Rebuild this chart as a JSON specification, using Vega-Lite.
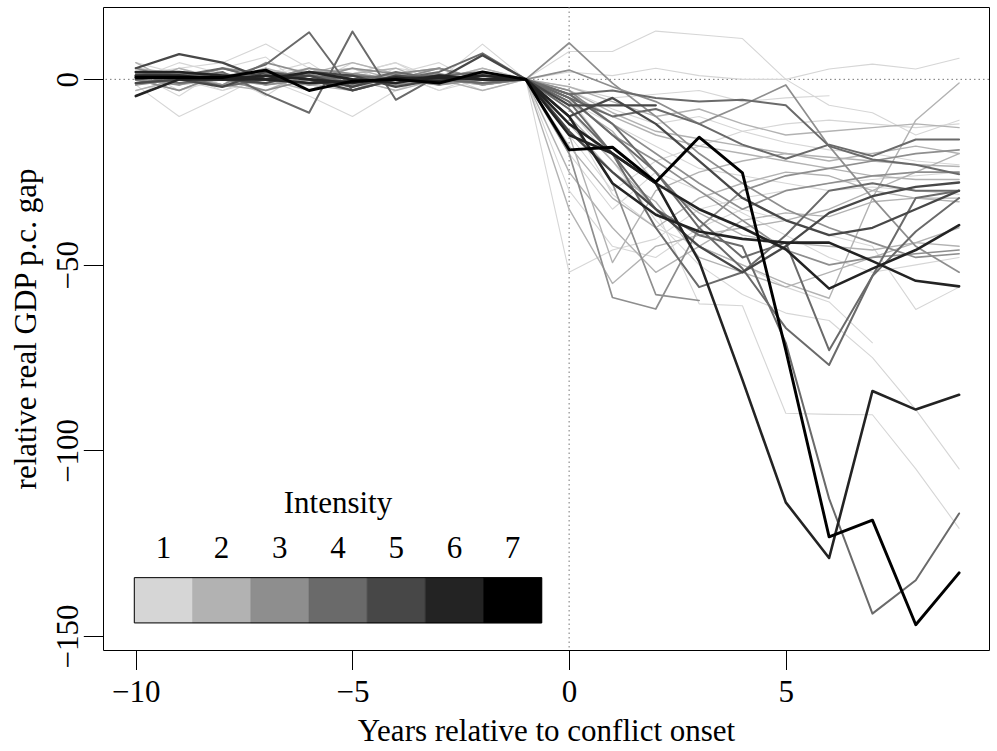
{
"$schema": "https://vega.github.io/schema/vega-lite/v6.json",
"width": 886, "height": 643,
"autosize": {"type": "none"},
"padding": {"left": 103, "top": 7, "right": 8, "bottom": 101},
"background": "white",
"config": {
  "font": "Liberation Serif",
  "view": {"stroke": "#000", "strokeWidth": 1},
  "axis": {"domain": false, "grid": false, "tickColor": "#000", "tickWidth": 1, "labelColor": "#000", "labelFont": "Liberation Serif", "labelFontSize": 31, "titleFont": "Liberation Serif", "titleFontSize": 31, "titleFontWeight": "normal", "titleColor": "#000", "labelFlush": false, "labelOverlap": false, "labelBound": false},
  "axisX": {"tickSize": 19.5, "labelBaseline": "alphabetic", "labelAlign": "center", "labelPadding": 31.5, "titleBaseline": "alphabetic", "titleY": 90},
  "axisY": {"tickSize": 19.7, "labelAngle": -90, "labelAlign": "center", "labelBaseline": "alphabetic", "labelPadding": 5.5, "titleAngle": -90, "titleAlign": "center", "titleBaseline": "alphabetic", "titleX": -68, "titleY": 321.5}
},
"layer": [
 {
  "layer": [
   {
    "data": {"values": [{}]},
    "mark": {"type": "rule", "color": "#777", "strokeDash": [1.5, 3], "strokeWidth": 1},
    "encoding": {"x": {"datum": 0, "type": "quantitative", "scale": {"domain": [-10.757, 9.69], "nice": false, "zero": false}, "title": "Years relative to conflict onset", "axis": {"values": [-10, -5, 0, 5]}}}
   },
   {
    "data": {"values": [{}]},
    "mark": {"type": "rule", "color": "#777", "strokeDash": [1.5, 3], "strokeWidth": 1},
    "encoding": {"y": {"datum": 0, "type": "quantitative", "scale": {"domain": [-153.8, 19.5], "nice": false, "zero": false}, "title": "relative real GDP p.c. gap", "axis": {"values": [0, -50, -100, -150]}}}
   },
   {
    "data": {"values": [
{"line":"L1","intensity":1,"year":-10,"gap":1.5},{"line":"L1","intensity":1,"year":-9,"gap":-4.5},{"line":"L1","intensity":1,"year":-8,"gap":3},{"line":"L1","intensity":1,"year":-7,"gap":6},{"line":"L1","intensity":1,"year":-6,"gap":-3},{"line":"L1","intensity":1,"year":-5,"gap":1.5},{"line":"L1","intensity":1,"year":-4,"gap":4.5},{"line":"L1","intensity":1,"year":-3,"gap":-1.5},{"line":"L1","intensity":1,"year":-2,"gap":3},{"line":"L1","intensity":1,"year":-1,"gap":0},
{"line":"L1","intensity":1,"year":0,"gap":7.5},{"line":"L1","intensity":1,"year":1,"gap":7.5},{"line":"L1","intensity":1,"year":2,"gap":13},{"line":"L1","intensity":1,"year":3,"gap":12},{"line":"L1","intensity":1,"year":4,"gap":11},{"line":"L1","intensity":1,"year":5,"gap":0},{"line":"L1","intensity":1,"year":6,"gap":-7},{"line":"L1","intensity":1,"year":7,"gap":-9},{"line":"L1","intensity":1,"year":8,"gap":-15},{"line":"L1","intensity":1,"year":9,"gap":-11},
{"line":"L2","intensity":1,"year":-10,"gap":0},{"line":"L2","intensity":1,"year":-9,"gap":3},{"line":"L2","intensity":1,"year":-8,"gap":-1.5},{"line":"L2","intensity":1,"year":-7,"gap":1.5},{"line":"L2","intensity":1,"year":-6,"gap":4.5},{"line":"L2","intensity":1,"year":-5,"gap":-3},{"line":"L2","intensity":1,"year":-4,"gap":0},{"line":"L2","intensity":1,"year":-3,"gap":1.5},{"line":"L2","intensity":1,"year":-2,"gap":-1.5},{"line":"L2","intensity":1,"year":-1,"gap":0},
{"line":"L2","intensity":1,"year":0,"gap":2},{"line":"L2","intensity":1,"year":1,"gap":1},{"line":"L2","intensity":1,"year":2,"gap":3},{"line":"L2","intensity":1,"year":3,"gap":1},{"line":"L2","intensity":1,"year":4,"gap":0},{"line":"L2","intensity":1,"year":5,"gap":0},{"line":"L2","intensity":1,"year":6,"gap":2.8},{"line":"L2","intensity":1,"year":7,"gap":4.1},{"line":"L2","intensity":1,"year":8,"gap":2.8},{"line":"L2","intensity":1,"year":9,"gap":5.7},
{"line":"L3","intensity":1,"year":-10,"gap":-3},{"line":"L3","intensity":1,"year":-9,"gap":0},{"line":"L3","intensity":1,"year":-8,"gap":1.5},{"line":"L3","intensity":1,"year":-7,"gap":-4.5},{"line":"L3","intensity":1,"year":-6,"gap":3},{"line":"L3","intensity":1,"year":-5,"gap":0},{"line":"L3","intensity":1,"year":-4,"gap":-3},{"line":"L3","intensity":1,"year":-3,"gap":1.5},{"line":"L3","intensity":1,"year":-2,"gap":0},{"line":"L3","intensity":1,"year":-1,"gap":0.5},
{"line":"L3","intensity":1,"year":0,"gap":-5},{"line":"L3","intensity":1,"year":1,"gap":-20},{"line":"L3","intensity":1,"year":2,"gap":-35},{"line":"L3","intensity":1,"year":3,"gap":-60.5},{"line":"L3","intensity":1,"year":4,"gap":-61},{"line":"L3","intensity":1,"year":5,"gap":-90},{"line":"L3","intensity":1,"year":6,"gap":-90.3},{"line":"L3","intensity":1,"year":7,"gap":-90.4},{"line":"L3","intensity":1,"year":8,"gap":-105},{"line":"L3","intensity":1,"year":9,"gap":-121},
{"line":"L4","intensity":1,"year":-10,"gap":4.5},{"line":"L4","intensity":1,"year":-9,"gap":1.5},{"line":"L4","intensity":1,"year":-8,"gap":-3},{"line":"L4","intensity":1,"year":-7,"gap":0},{"line":"L4","intensity":1,"year":-6,"gap":1.5},{"line":"L4","intensity":1,"year":-5,"gap":3},{"line":"L4","intensity":1,"year":-4,"gap":-1.5},{"line":"L4","intensity":1,"year":-3,"gap":0},{"line":"L4","intensity":1,"year":-2,"gap":3},{"line":"L4","intensity":1,"year":-1,"gap":0},
{"line":"L4","intensity":1,"year":0,"gap":-8},{"line":"L4","intensity":1,"year":1,"gap":-22},{"line":"L4","intensity":1,"year":2,"gap":-38},{"line":"L4","intensity":1,"year":3,"gap":-50},{"line":"L4","intensity":1,"year":4,"gap":-58},{"line":"L4","intensity":1,"year":5,"gap":-63},{"line":"L4","intensity":1,"year":6,"gap":-65},{"line":"L4","intensity":1,"year":7,"gap":-75},{"line":"L4","intensity":1,"year":8,"gap":-89},{"line":"L4","intensity":1,"year":9,"gap":-105},
{"line":"L5","intensity":1,"year":-10,"gap":-1.5},{"line":"L5","intensity":1,"year":-9,"gap":-10},{"line":"L5","intensity":1,"year":-8,"gap":-4.5},{"line":"L5","intensity":1,"year":-7,"gap":1.5},{"line":"L5","intensity":1,"year":-6,"gap":0},{"line":"L5","intensity":1,"year":-5,"gap":-3},{"line":"L5","intensity":1,"year":-4,"gap":1.5},{"line":"L5","intensity":1,"year":-3,"gap":4.5},{"line":"L5","intensity":1,"year":-2,"gap":-1.5},{"line":"L5","intensity":1,"year":-1,"gap":0},
{"line":"L5","intensity":1,"year":0,"gap":-52},{"line":"L5","intensity":1,"year":1,"gap":-46},{"line":"L5","intensity":1,"year":2,"gap":-43},{"line":"L5","intensity":1,"year":3,"gap":-35},{"line":"L5","intensity":1,"year":4,"gap":-32},{"line":"L5","intensity":1,"year":5,"gap":-30},{"line":"L5","intensity":1,"year":6,"gap":-28},{"line":"L5","intensity":1,"year":7,"gap":-27},{"line":"L5","intensity":1,"year":8,"gap":-26},{"line":"L5","intensity":1,"year":9,"gap":-25},
{"line":"L6","intensity":1,"year":-10,"gap":1.5},{"line":"L6","intensity":1,"year":-9,"gap":3},{"line":"L6","intensity":1,"year":-8,"gap":4.5},{"line":"L6","intensity":1,"year":-7,"gap":9.5},{"line":"L6","intensity":1,"year":-6,"gap":3},{"line":"L6","intensity":1,"year":-5,"gap":0},{"line":"L6","intensity":1,"year":-4,"gap":-1.5},{"line":"L6","intensity":1,"year":-3,"gap":1.5},{"line":"L6","intensity":1,"year":-2,"gap":-3},{"line":"L6","intensity":1,"year":-1,"gap":0},
{"line":"L6","intensity":1,"year":0,"gap":-3},{"line":"L6","intensity":1,"year":1,"gap":-8},{"line":"L6","intensity":1,"year":2,"gap":-12},{"line":"L6","intensity":1,"year":3,"gap":-10},{"line":"L6","intensity":1,"year":4,"gap":-14},{"line":"L6","intensity":1,"year":5,"gap":-17},{"line":"L6","intensity":1,"year":6,"gap":-19},{"line":"L6","intensity":1,"year":7,"gap":-20},{"line":"L6","intensity":1,"year":8,"gap":-22},{"line":"L6","intensity":1,"year":9,"gap":-23},
{"line":"L7","intensity":1,"year":-10,"gap":0},{"line":"L7","intensity":1,"year":-9,"gap":-1.5},{"line":"L7","intensity":1,"year":-8,"gap":3},{"line":"L7","intensity":1,"year":-7,"gap":0},{"line":"L7","intensity":1,"year":-6,"gap":-4.5},{"line":"L7","intensity":1,"year":-5,"gap":-10},{"line":"L7","intensity":1,"year":-4,"gap":-3},{"line":"L7","intensity":1,"year":-3,"gap":1.5},{"line":"L7","intensity":1,"year":-2,"gap":0},{"line":"L7","intensity":1,"year":-1,"gap":0},
{"line":"L7","intensity":1,"year":0,"gap":-2},{"line":"L7","intensity":1,"year":1,"gap":-5},{"line":"L7","intensity":1,"year":2,"gap":-4},{"line":"L7","intensity":1,"year":3,"gap":-3},{"line":"L7","intensity":1,"year":4,"gap":-6},{"line":"L7","intensity":1,"year":5,"gap":-5},{"line":"L7","intensity":1,"year":6,"gap":-4.4},
{"line":"L8","intensity":1,"year":-10,"gap":3},{"line":"L8","intensity":1,"year":-9,"gap":0},{"line":"L8","intensity":1,"year":-8,"gap":-1.5},{"line":"L8","intensity":1,"year":-7,"gap":1.5},{"line":"L8","intensity":1,"year":-6,"gap":3},{"line":"L8","intensity":1,"year":-5,"gap":1.5},{"line":"L8","intensity":1,"year":-4,"gap":4.5},{"line":"L8","intensity":1,"year":-3,"gap":0},{"line":"L8","intensity":1,"year":-2,"gap":9.5},{"line":"L8","intensity":1,"year":-1,"gap":0},
{"line":"L8","intensity":1,"year":0,"gap":-6},{"line":"L8","intensity":1,"year":1,"gap":-12},{"line":"L8","intensity":1,"year":2,"gap":-18},{"line":"L8","intensity":1,"year":3,"gap":-24},{"line":"L8","intensity":1,"year":4,"gap":-26},{"line":"L8","intensity":1,"year":5,"gap":-28},{"line":"L8","intensity":1,"year":6,"gap":-30},{"line":"L8","intensity":1,"year":7,"gap":-29},{"line":"L8","intensity":1,"year":8,"gap":-30},{"line":"L8","intensity":1,"year":9,"gap":-31},
{"line":"L9","intensity":1,"year":-10,"gap":-4.5},{"line":"L9","intensity":1,"year":-9,"gap":1.5},{"line":"L9","intensity":1,"year":-8,"gap":0},{"line":"L9","intensity":1,"year":-7,"gap":3},{"line":"L9","intensity":1,"year":-6,"gap":-1.5},{"line":"L9","intensity":1,"year":-5,"gap":4.5},{"line":"L9","intensity":1,"year":-4,"gap":1.5},{"line":"L9","intensity":1,"year":-3,"gap":-3},{"line":"L9","intensity":1,"year":-2,"gap":0},{"line":"L9","intensity":1,"year":-1,"gap":0},
{"line":"L9","intensity":1,"year":0,"gap":-15},{"line":"L9","intensity":1,"year":1,"gap":-30},{"line":"L9","intensity":1,"year":2,"gap":-22},{"line":"L9","intensity":1,"year":3,"gap":-18},{"line":"L9","intensity":1,"year":4,"gap":-14},{"line":"L9","intensity":1,"year":5,"gap":-12},{"line":"L9","intensity":1,"year":6,"gap":-11},{"line":"L9","intensity":1,"year":7,"gap":-12},{"line":"L9","intensity":1,"year":8,"gap":-13},{"line":"L9","intensity":1,"year":9,"gap":-12},
{"line":"L10","intensity":1,"year":-10,"gap":1.5},{"line":"L10","intensity":1,"year":-9,"gap":0},{"line":"L10","intensity":1,"year":-8,"gap":-3},{"line":"L10","intensity":1,"year":-7,"gap":1.5},{"line":"L10","intensity":1,"year":-6,"gap":0},{"line":"L10","intensity":1,"year":-5,"gap":-1.5},{"line":"L10","intensity":1,"year":-4,"gap":3},{"line":"L10","intensity":1,"year":-3,"gap":1.5},{"line":"L10","intensity":1,"year":-2,"gap":-1.5},{"line":"L10","intensity":1,"year":-1,"gap":0},
{"line":"L10","intensity":1,"year":0,"gap":-10},{"line":"L10","intensity":1,"year":1,"gap":-31},{"line":"L10","intensity":1,"year":2,"gap":-40},{"line":"L10","intensity":1,"year":3,"gap":-45},{"line":"L10","intensity":1,"year":4,"gap":-50},{"line":"L10","intensity":1,"year":5,"gap":-56},{"line":"L10","intensity":1,"year":6,"gap":-60},{"line":"L10","intensity":1,"year":7,"gap":-71},
{"line":"L11","intensity":1,"year":-10,"gap":0},{"line":"L11","intensity":1,"year":-9,"gap":4.5},{"line":"L11","intensity":1,"year":-8,"gap":1.5},{"line":"L11","intensity":1,"year":-7,"gap":-1.5},{"line":"L11","intensity":1,"year":-6,"gap":0},{"line":"L11","intensity":1,"year":-5,"gap":3},{"line":"L11","intensity":1,"year":-4,"gap":-1.5},{"line":"L11","intensity":1,"year":-3,"gap":0},{"line":"L11","intensity":1,"year":-2,"gap":1.5},{"line":"L11","intensity":1,"year":-1,"gap":0},
{"line":"L11","intensity":1,"year":0,"gap":-30},{"line":"L11","intensity":1,"year":1,"gap":-45},{"line":"L11","intensity":1,"year":2,"gap":-48},{"line":"L11","intensity":1,"year":3,"gap":-40},{"line":"L11","intensity":1,"year":4,"gap":-35},{"line":"L11","intensity":1,"year":5,"gap":-38},{"line":"L11","intensity":1,"year":6,"gap":-42},{"line":"L11","intensity":1,"year":7,"gap":-45},{"line":"L11","intensity":1,"year":8,"gap":-62},{"line":"L11","intensity":1,"year":9,"gap":-56},
{"line":"L12","intensity":1,"year":-10,"gap":3},{"line":"L12","intensity":1,"year":-9,"gap":-3},{"line":"L12","intensity":1,"year":-8,"gap":0},{"line":"L12","intensity":1,"year":-7,"gap":1.5},{"line":"L12","intensity":1,"year":-6,"gap":-1.5},{"line":"L12","intensity":1,"year":-5,"gap":0},{"line":"L12","intensity":1,"year":-4,"gap":1.5},{"line":"L12","intensity":1,"year":-3,"gap":-3},{"line":"L12","intensity":1,"year":-2,"gap":1.5},{"line":"L12","intensity":1,"year":-1,"gap":0},
{"line":"L12","intensity":1,"year":0,"gap":-20},{"line":"L12","intensity":1,"year":1,"gap":-35},{"line":"L12","intensity":1,"year":2,"gap":-25},{"line":"L12","intensity":1,"year":3,"gap":-30},{"line":"L12","intensity":1,"year":4,"gap":-36},{"line":"L12","intensity":1,"year":5,"gap":-42},{"line":"L12","intensity":1,"year":6,"gap":-48},{"line":"L12","intensity":1,"year":7,"gap":-52},{"line":"L12","intensity":1,"year":8,"gap":-50},{"line":"L12","intensity":1,"year":9,"gap":-48},
{"line":"M1","intensity":2,"year":-10,"gap":-1.5},{"line":"M1","intensity":2,"year":-9,"gap":1.5},{"line":"M1","intensity":2,"year":-8,"gap":0},{"line":"M1","intensity":2,"year":-7,"gap":3},{"line":"M1","intensity":2,"year":-6,"gap":-3},{"line":"M1","intensity":2,"year":-5,"gap":1.5},{"line":"M1","intensity":2,"year":-4,"gap":0},{"line":"M1","intensity":2,"year":-3,"gap":-1.5},{"line":"M1","intensity":2,"year":-2,"gap":1.5},{"line":"M1","intensity":2,"year":-1,"gap":0},
{"line":"M1","intensity":2,"year":0,"gap":-15},{"line":"M1","intensity":2,"year":1,"gap":-49.4},{"line":"M1","intensity":2,"year":2,"gap":-30},{"line":"M1","intensity":2,"year":3,"gap":-25},{"line":"M1","intensity":2,"year":4,"gap":-22},{"line":"M1","intensity":2,"year":5,"gap":-20},{"line":"M1","intensity":2,"year":6,"gap":-21},{"line":"M1","intensity":2,"year":7,"gap":-22},{"line":"M1","intensity":2,"year":8,"gap":-23},{"line":"M1","intensity":2,"year":9,"gap":-23.5},
{"line":"M2","intensity":2,"year":-10,"gap":0},{"line":"M2","intensity":2,"year":-9,"gap":-3},{"line":"M2","intensity":2,"year":-8,"gap":1.5},{"line":"M2","intensity":2,"year":-7,"gap":0},{"line":"M2","intensity":2,"year":-6,"gap":3},{"line":"M2","intensity":2,"year":-5,"gap":-1.5},{"line":"M2","intensity":2,"year":-4,"gap":0},{"line":"M2","intensity":2,"year":-3,"gap":3},{"line":"M2","intensity":2,"year":-2,"gap":-1.5},{"line":"M2","intensity":2,"year":-1,"gap":0},
{"line":"M2","intensity":2,"year":0,"gap":-4},{"line":"M2","intensity":2,"year":1,"gap":-10},{"line":"M2","intensity":2,"year":2,"gap":-15},{"line":"M2","intensity":2,"year":3,"gap":-18},{"line":"M2","intensity":2,"year":4,"gap":-20},{"line":"M2","intensity":2,"year":5,"gap":-22},{"line":"M2","intensity":2,"year":6,"gap":-24},{"line":"M2","intensity":2,"year":7,"gap":-26},{"line":"M2","intensity":2,"year":8,"gap":-27},{"line":"M2","intensity":2,"year":9,"gap":-27},
{"line":"M3","intensity":2,"year":-10,"gap":3},{"line":"M3","intensity":2,"year":-9,"gap":1.5},{"line":"M3","intensity":2,"year":-8,"gap":-1.5},{"line":"M3","intensity":2,"year":-7,"gap":0},{"line":"M3","intensity":2,"year":-6,"gap":1.5},{"line":"M3","intensity":2,"year":-5,"gap":3},{"line":"M3","intensity":2,"year":-4,"gap":0},{"line":"M3","intensity":2,"year":-3,"gap":1.5},{"line":"M3","intensity":2,"year":-2,"gap":0},{"line":"M3","intensity":2,"year":-1,"gap":0},
{"line":"M3","intensity":2,"year":0,"gap":-12},{"line":"M3","intensity":2,"year":1,"gap":-25},{"line":"M3","intensity":2,"year":2,"gap":-33},{"line":"M3","intensity":2,"year":3,"gap":-48},{"line":"M3","intensity":2,"year":4,"gap":-52},{"line":"M3","intensity":2,"year":5,"gap":-56},{"line":"M3","intensity":2,"year":6,"gap":-52},{"line":"M3","intensity":2,"year":7,"gap":-48},{"line":"M3","intensity":2,"year":8,"gap":-44},{"line":"M3","intensity":2,"year":9,"gap":-40},
{"line":"M4","intensity":2,"year":-10,"gap":-3},{"line":"M4","intensity":2,"year":-9,"gap":0},{"line":"M4","intensity":2,"year":-8,"gap":3},{"line":"M4","intensity":2,"year":-7,"gap":1.5},{"line":"M4","intensity":2,"year":-6,"gap":-1.5},{"line":"M4","intensity":2,"year":-5,"gap":0},{"line":"M4","intensity":2,"year":-4,"gap":-3},{"line":"M4","intensity":2,"year":-3,"gap":0},{"line":"M4","intensity":2,"year":-2,"gap":1.5},{"line":"M4","intensity":2,"year":-1,"gap":0},
{"line":"M4","intensity":2,"year":0,"gap":-6},{"line":"M4","intensity":2,"year":1,"gap":-14},{"line":"M4","intensity":2,"year":2,"gap":-28},{"line":"M4","intensity":2,"year":3,"gap":-36},{"line":"M4","intensity":2,"year":4,"gap":-42},{"line":"M4","intensity":2,"year":5,"gap":-44},{"line":"M4","intensity":2,"year":6,"gap":-45},{"line":"M4","intensity":2,"year":7,"gap":-46},{"line":"M4","intensity":2,"year":8,"gap":-44},{"line":"M4","intensity":2,"year":9,"gap":-45},
{"line":"M5","intensity":2,"year":-10,"gap":1.5},{"line":"M5","intensity":2,"year":-9,"gap":0},{"line":"M5","intensity":2,"year":-8,"gap":-1.5},{"line":"M5","intensity":2,"year":-7,"gap":-3},{"line":"M5","intensity":2,"year":-6,"gap":1.5},{"line":"M5","intensity":2,"year":-5,"gap":4.5},{"line":"M5","intensity":2,"year":-4,"gap":1.5},{"line":"M5","intensity":2,"year":-3,"gap":0},{"line":"M5","intensity":2,"year":-2,"gap":-1.5},{"line":"M5","intensity":2,"year":-1,"gap":0},
{"line":"M5","intensity":2,"year":0,"gap":-2},{"line":"M5","intensity":2,"year":1,"gap":-6},{"line":"M5","intensity":2,"year":2,"gap":-10},{"line":"M5","intensity":2,"year":3,"gap":-8},{"line":"M5","intensity":2,"year":4,"gap":-12},{"line":"M5","intensity":2,"year":5,"gap":-15},{"line":"M5","intensity":2,"year":6,"gap":-14},{"line":"M5","intensity":2,"year":7,"gap":-13},{"line":"M5","intensity":2,"year":8,"gap":-12},{"line":"M5","intensity":2,"year":9,"gap":-13},
{"line":"M6","intensity":2,"year":-10,"gap":0},{"line":"M6","intensity":2,"year":-9,"gap":1.5},{"line":"M6","intensity":2,"year":-8,"gap":1.5},{"line":"M6","intensity":2,"year":-7,"gap":0},{"line":"M6","intensity":2,"year":-6,"gap":-1.5},{"line":"M6","intensity":2,"year":-5,"gap":-3},{"line":"M6","intensity":2,"year":-4,"gap":1.5},{"line":"M6","intensity":2,"year":-3,"gap":3},{"line":"M6","intensity":2,"year":-2,"gap":0},{"line":"M6","intensity":2,"year":-1,"gap":0},
{"line":"M6","intensity":2,"year":0,"gap":-25},{"line":"M6","intensity":2,"year":1,"gap":-40},{"line":"M6","intensity":2,"year":2,"gap":-52},{"line":"M6","intensity":2,"year":3,"gap":-45},{"line":"M6","intensity":2,"year":4,"gap":-38},{"line":"M6","intensity":2,"year":5,"gap":-36},{"line":"M6","intensity":2,"year":6,"gap":-37},{"line":"M6","intensity":2,"year":7,"gap":-33},{"line":"M6","intensity":2,"year":8,"gap":-32},{"line":"M6","intensity":2,"year":9,"gap":-32},
{"line":"M7","intensity":2,"year":-10,"gap":4.5},{"line":"M7","intensity":2,"year":-9,"gap":-1.5},{"line":"M7","intensity":2,"year":-8,"gap":0},{"line":"M7","intensity":2,"year":-7,"gap":-1.5},{"line":"M7","intensity":2,"year":-6,"gap":3},{"line":"M7","intensity":2,"year":-5,"gap":0},{"line":"M7","intensity":2,"year":-4,"gap":-1.5},{"line":"M7","intensity":2,"year":-3,"gap":0},{"line":"M7","intensity":2,"year":-2,"gap":3},{"line":"M7","intensity":2,"year":-1,"gap":0},
{"line":"M7","intensity":2,"year":0,"gap":-3},{"line":"M7","intensity":2,"year":1,"gap":-9},{"line":"M7","intensity":2,"year":2,"gap":-14},{"line":"M7","intensity":2,"year":3,"gap":-16},{"line":"M7","intensity":2,"year":4,"gap":-18},{"line":"M7","intensity":2,"year":5,"gap":-20},{"line":"M7","intensity":2,"year":6,"gap":-22},{"line":"M7","intensity":2,"year":7,"gap":-20},{"line":"M7","intensity":2,"year":8,"gap":-18},{"line":"M7","intensity":2,"year":9,"gap":-20},
{"line":"M8","intensity":2,"year":-10,"gap":-1.5},{"line":"M8","intensity":2,"year":-9,"gap":3},{"line":"M8","intensity":2,"year":-8,"gap":0},{"line":"M8","intensity":2,"year":-7,"gap":-1.5},{"line":"M8","intensity":2,"year":-6,"gap":0},{"line":"M8","intensity":2,"year":-5,"gap":1.5},{"line":"M8","intensity":2,"year":-4,"gap":3},{"line":"M8","intensity":2,"year":-3,"gap":-1.5},{"line":"M8","intensity":2,"year":-2,"gap":0},{"line":"M8","intensity":2,"year":-1,"gap":0},
{"line":"M8","intensity":2,"year":0,"gap":-18},{"line":"M8","intensity":2,"year":1,"gap":-32},{"line":"M8","intensity":2,"year":2,"gap":-40},{"line":"M8","intensity":2,"year":3,"gap":-32},{"line":"M8","intensity":2,"year":4,"gap":-28},{"line":"M8","intensity":2,"year":5,"gap":-25},{"line":"M8","intensity":2,"year":6,"gap":-26},{"line":"M8","intensity":2,"year":7,"gap":-30},{"line":"M8","intensity":2,"year":8,"gap":-32},{"line":"M8","intensity":2,"year":9,"gap":-33},
{"line":"M9","intensity":2,"year":-10,"gap":1.5},{"line":"M9","intensity":2,"year":-9,"gap":-1.5},{"line":"M9","intensity":2,"year":-8,"gap":1.5},{"line":"M9","intensity":2,"year":-7,"gap":0},{"line":"M9","intensity":2,"year":-6,"gap":-3},{"line":"M9","intensity":2,"year":-5,"gap":1.5},{"line":"M9","intensity":2,"year":-4,"gap":0},{"line":"M9","intensity":2,"year":-3,"gap":0},{"line":"M9","intensity":2,"year":-2,"gap":-1.5},{"line":"M9","intensity":2,"year":-1,"gap":0},
{"line":"M9","intensity":2,"year":0,"gap":-35},{"line":"M9","intensity":2,"year":1,"gap":-55},{"line":"M9","intensity":2,"year":2,"gap":-45},{"line":"M9","intensity":2,"year":3,"gap":-42},{"line":"M9","intensity":2,"year":4,"gap":-40},{"line":"M9","intensity":2,"year":5,"gap":-38},{"line":"M9","intensity":2,"year":6,"gap":-35},{"line":"M9","intensity":2,"year":7,"gap":-30},{"line":"M9","intensity":2,"year":8,"gap":-25},{"line":"M9","intensity":2,"year":9,"gap":-20},
{"line":"M10","intensity":2,"year":-10,"gap":0},{"line":"M10","intensity":2,"year":-9,"gap":1.5},{"line":"M10","intensity":2,"year":-8,"gap":-1.5},{"line":"M10","intensity":2,"year":-7,"gap":3},{"line":"M10","intensity":2,"year":-6,"gap":0},{"line":"M10","intensity":2,"year":-5,"gap":-1.5},{"line":"M10","intensity":2,"year":-4,"gap":1.5},{"line":"M10","intensity":2,"year":-3,"gap":0},{"line":"M10","intensity":2,"year":-2,"gap":-3},{"line":"M10","intensity":2,"year":-1,"gap":0},
{"line":"M10","intensity":2,"year":0,"gap":-10},{"line":"M10","intensity":2,"year":1,"gap":-22},{"line":"M10","intensity":2,"year":2,"gap":-35},{"line":"M10","intensity":2,"year":3,"gap":-45},{"line":"M10","intensity":2,"year":4,"gap":-50},{"line":"M10","intensity":2,"year":5,"gap":-55},{"line":"M10","intensity":2,"year":6,"gap":-59},{"line":"M10","intensity":2,"year":7,"gap":-32},{"line":"M10","intensity":2,"year":8,"gap":-11},{"line":"M10","intensity":2,"year":9,"gap":-1},
{"line":"N1","intensity":3,"year":-10,"gap":0},{"line":"N1","intensity":3,"year":-9,"gap":-1.5},{"line":"N1","intensity":3,"year":-8,"gap":1.5},{"line":"N1","intensity":3,"year":-7,"gap":0},{"line":"N1","intensity":3,"year":-6,"gap":3},{"line":"N1","intensity":3,"year":-5,"gap":1.5},{"line":"N1","intensity":3,"year":-4,"gap":0},{"line":"N1","intensity":3,"year":-3,"gap":-1.5},{"line":"N1","intensity":3,"year":-2,"gap":1.5},{"line":"N1","intensity":3,"year":-1,"gap":0},
{"line":"N1","intensity":3,"year":0,"gap":9.8},{"line":"N1","intensity":3,"year":1,"gap":-1},{"line":"N1","intensity":3,"year":2,"gap":-10},{"line":"N1","intensity":3,"year":3,"gap":-20},{"line":"N1","intensity":3,"year":4,"gap":-28},{"line":"N1","intensity":3,"year":5,"gap":-35},{"line":"N1","intensity":3,"year":6,"gap":-40},{"line":"N1","intensity":3,"year":7,"gap":-44},{"line":"N1","intensity":3,"year":8,"gap":-48},{"line":"N1","intensity":3,"year":9,"gap":-47},
{"line":"N2","intensity":3,"year":-10,"gap":-1.5},{"line":"N2","intensity":3,"year":-9,"gap":0},{"line":"N2","intensity":3,"year":-8,"gap":3},{"line":"N2","intensity":3,"year":-7,"gap":1.5},{"line":"N2","intensity":3,"year":-6,"gap":-1.5},{"line":"N2","intensity":3,"year":-5,"gap":0},{"line":"N2","intensity":3,"year":-4,"gap":1.5},{"line":"N2","intensity":3,"year":-3,"gap":3},{"line":"N2","intensity":3,"year":-2,"gap":0},{"line":"N2","intensity":3,"year":-1,"gap":0},
{"line":"N2","intensity":3,"year":0,"gap":-20},{"line":"N2","intensity":3,"year":1,"gap":-58.8},{"line":"N2","intensity":3,"year":2,"gap":-61.9},{"line":"N2","intensity":3,"year":3,"gap":-40},{"line":"N2","intensity":3,"year":4,"gap":-30},{"line":"N2","intensity":3,"year":5,"gap":-26},{"line":"N2","intensity":3,"year":6,"gap":-24},{"line":"N2","intensity":3,"year":7,"gap":-22},{"line":"N2","intensity":3,"year":8,"gap":-20},{"line":"N2","intensity":3,"year":9,"gap":-19},
{"line":"N3","intensity":3,"year":-10,"gap":3},{"line":"N3","intensity":3,"year":-9,"gap":0},{"line":"N3","intensity":3,"year":-8,"gap":-1.5},{"line":"N3","intensity":3,"year":-7,"gap":4.5},{"line":"N3","intensity":3,"year":-6,"gap":1.5},{"line":"N3","intensity":3,"year":-5,"gap":-1.5},{"line":"N3","intensity":3,"year":-4,"gap":0},{"line":"N3","intensity":3,"year":-3,"gap":1.5},{"line":"N3","intensity":3,"year":-2,"gap":-1.5},{"line":"N3","intensity":3,"year":-1,"gap":0},
{"line":"N3","intensity":3,"year":0,"gap":-3},{"line":"N3","intensity":3,"year":1,"gap":-12},{"line":"N3","intensity":3,"year":2,"gap":-20},{"line":"N3","intensity":3,"year":3,"gap":-28},{"line":"N3","intensity":3,"year":4,"gap":-35},{"line":"N3","intensity":3,"year":5,"gap":-30},{"line":"N3","intensity":3,"year":6,"gap":-28},{"line":"N3","intensity":3,"year":7,"gap":-26},{"line":"N3","intensity":3,"year":8,"gap":-25},{"line":"N3","intensity":3,"year":9,"gap":-25},
{"line":"N4","intensity":3,"year":-10,"gap":0},{"line":"N4","intensity":3,"year":-9,"gap":-3},{"line":"N4","intensity":3,"year":-8,"gap":1.5},{"line":"N4","intensity":3,"year":-7,"gap":-1.5},{"line":"N4","intensity":3,"year":-6,"gap":0},{"line":"N4","intensity":3,"year":-5,"gap":3},{"line":"N4","intensity":3,"year":-4,"gap":1.5},{"line":"N4","intensity":3,"year":-3,"gap":-1.5},{"line":"N4","intensity":3,"year":-2,"gap":0},{"line":"N4","intensity":3,"year":-1,"gap":0},
{"line":"N4","intensity":3,"year":0,"gap":-5},{"line":"N4","intensity":3,"year":1,"gap":-15},{"line":"N4","intensity":3,"year":2,"gap":-22},{"line":"N4","intensity":3,"year":3,"gap":-30},{"line":"N4","intensity":3,"year":4,"gap":-38},{"line":"N4","intensity":3,"year":5,"gap":-46},{"line":"N4","intensity":3,"year":6,"gap":-50},{"line":"N4","intensity":3,"year":7,"gap":-48},{"line":"N4","intensity":3,"year":8,"gap":-47},{"line":"N4","intensity":3,"year":9,"gap":-46},
{"line":"N5","intensity":3,"year":-10,"gap":-4.5},{"line":"N5","intensity":3,"year":-9,"gap":0},{"line":"N5","intensity":3,"year":-8,"gap":3},{"line":"N5","intensity":3,"year":-7,"gap":0},{"line":"N5","intensity":3,"year":-6,"gap":-1.5},{"line":"N5","intensity":3,"year":-5,"gap":1.5},{"line":"N5","intensity":3,"year":-4,"gap":0},{"line":"N5","intensity":3,"year":-3,"gap":3},{"line":"N5","intensity":3,"year":-2,"gap":0},{"line":"N5","intensity":3,"year":-1,"gap":0},
{"line":"N5","intensity":3,"year":0,"gap":-10},{"line":"N5","intensity":3,"year":1,"gap":-28},{"line":"N5","intensity":3,"year":2,"gap":-58},{"line":"N5","intensity":3,"year":3,"gap":-59.6},
{"line":"N6","intensity":3,"year":-10,"gap":1.5},{"line":"N6","intensity":3,"year":-9,"gap":1.5},{"line":"N6","intensity":3,"year":-8,"gap":0},{"line":"N6","intensity":3,"year":-7,"gap":-3},{"line":"N6","intensity":3,"year":-6,"gap":0},{"line":"N6","intensity":3,"year":-5,"gap":1.5},{"line":"N6","intensity":3,"year":-4,"gap":-1.5},{"line":"N6","intensity":3,"year":-3,"gap":0},{"line":"N6","intensity":3,"year":-2,"gap":1.5},{"line":"N6","intensity":3,"year":-1,"gap":0},
{"line":"N6","intensity":3,"year":0,"gap":2.5},{"line":"N6","intensity":3,"year":1,"gap":-2},{"line":"N6","intensity":3,"year":2,"gap":-6},{"line":"N6","intensity":3,"year":3,"gap":-12},{"line":"N6","intensity":3,"year":4,"gap":-7},{"line":"N6","intensity":3,"year":5,"gap":-1.5},{"line":"N6","intensity":3,"year":6,"gap":-18},{"line":"N6","intensity":3,"year":7,"gap":-32},{"line":"N6","intensity":3,"year":8,"gap":-45},{"line":"N6","intensity":3,"year":9,"gap":-52},
{"line":"Q1","intensity":4,"year":-10,"gap":1},{"line":"Q1","intensity":4,"year":-9,"gap":2},{"line":"Q1","intensity":4,"year":-8,"gap":0},{"line":"Q1","intensity":4,"year":-7,"gap":4},{"line":"Q1","intensity":4,"year":-6,"gap":12.7},{"line":"Q1","intensity":4,"year":-5,"gap":-3},{"line":"Q1","intensity":4,"year":-4,"gap":0},{"line":"Q1","intensity":4,"year":-3,"gap":1},{"line":"Q1","intensity":4,"year":-2,"gap":2},{"line":"Q1","intensity":4,"year":-1,"gap":0},
{"line":"Q1","intensity":4,"year":0,"gap":-5},{"line":"Q1","intensity":4,"year":1,"gap":-15},{"line":"Q1","intensity":4,"year":2,"gap":-25},{"line":"Q1","intensity":4,"year":3,"gap":-40},{"line":"Q1","intensity":4,"year":4,"gap":-51},{"line":"Q1","intensity":4,"year":5,"gap":-67},{"line":"Q1","intensity":4,"year":6,"gap":-77},{"line":"Q1","intensity":4,"year":7,"gap":-53},{"line":"Q1","intensity":4,"year":8,"gap":-41},{"line":"Q1","intensity":4,"year":9,"gap":-32},
{"line":"Q2","intensity":4,"year":-10,"gap":-1},{"line":"Q2","intensity":4,"year":-9,"gap":0},{"line":"Q2","intensity":4,"year":-8,"gap":2},{"line":"Q2","intensity":4,"year":-7,"gap":-4},{"line":"Q2","intensity":4,"year":-6,"gap":-9},{"line":"Q2","intensity":4,"year":-5,"gap":12.9},{"line":"Q2","intensity":4,"year":-4,"gap":-5.5},{"line":"Q2","intensity":4,"year":-3,"gap":1},{"line":"Q2","intensity":4,"year":-2,"gap":0},{"line":"Q2","intensity":4,"year":-1,"gap":0},
{"line":"Q2","intensity":4,"year":0,"gap":-5},{"line":"Q2","intensity":4,"year":1,"gap":-10},{"line":"Q2","intensity":4,"year":2,"gap":-8},{"line":"Q2","intensity":4,"year":3,"gap":-12},{"line":"Q2","intensity":4,"year":4,"gap":-17.6},{"line":"Q2","intensity":4,"year":5,"gap":-21.4},{"line":"Q2","intensity":4,"year":6,"gap":-17.6},{"line":"Q2","intensity":4,"year":7,"gap":-20.7},{"line":"Q2","intensity":4,"year":8,"gap":-16.2},{"line":"Q2","intensity":4,"year":9,"gap":-16.2},
{"line":"Q3","intensity":4,"year":-10,"gap":2},{"line":"Q3","intensity":4,"year":-9,"gap":1},{"line":"Q3","intensity":4,"year":-8,"gap":3},{"line":"Q3","intensity":4,"year":-7,"gap":0},{"line":"Q3","intensity":4,"year":-6,"gap":-1},{"line":"Q3","intensity":4,"year":-5,"gap":1},{"line":"Q3","intensity":4,"year":-4,"gap":0},{"line":"Q3","intensity":4,"year":-3,"gap":2},{"line":"Q3","intensity":4,"year":-2,"gap":7},{"line":"Q3","intensity":4,"year":-1,"gap":0},
{"line":"Q3","intensity":4,"year":0,"gap":-4},{"line":"Q3","intensity":4,"year":1,"gap":-3},{"line":"Q3","intensity":4,"year":2,"gap":-5},{"line":"Q3","intensity":4,"year":3,"gap":-6},{"line":"Q3","intensity":4,"year":4,"gap":-5.5},{"line":"Q3","intensity":4,"year":5,"gap":-7},{"line":"Q3","intensity":4,"year":6,"gap":-18},{"line":"Q3","intensity":4,"year":7,"gap":-21.6},{"line":"Q3","intensity":4,"year":8,"gap":-23},{"line":"Q3","intensity":4,"year":9,"gap":-25.6},
{"line":"Q4","intensity":4,"year":-10,"gap":-1},{"line":"Q4","intensity":4,"year":-9,"gap":0},{"line":"Q4","intensity":4,"year":-8,"gap":1},{"line":"Q4","intensity":4,"year":-7,"gap":2},{"line":"Q4","intensity":4,"year":-6,"gap":0},{"line":"Q4","intensity":4,"year":-5,"gap":-2},{"line":"Q4","intensity":4,"year":-4,"gap":1},{"line":"Q4","intensity":4,"year":-3,"gap":0},{"line":"Q4","intensity":4,"year":-2,"gap":-1},{"line":"Q4","intensity":4,"year":-1,"gap":0},
{"line":"Q4","intensity":4,"year":0,"gap":-8},{"line":"Q4","intensity":4,"year":1,"gap":-20},{"line":"Q4","intensity":4,"year":2,"gap":-35},{"line":"Q4","intensity":4,"year":3,"gap":-42},{"line":"Q4","intensity":4,"year":4,"gap":-45},{"line":"Q4","intensity":4,"year":5,"gap":-71},{"line":"Q4","intensity":4,"year":6,"gap":-113},{"line":"Q4","intensity":4,"year":7,"gap":-144},{"line":"Q4","intensity":4,"year":8,"gap":-135},{"line":"Q4","intensity":4,"year":9,"gap":-117},
{"line":"Q5","intensity":4,"year":-10,"gap":1},{"line":"Q5","intensity":4,"year":-9,"gap":-1},{"line":"Q5","intensity":4,"year":-8,"gap":0},{"line":"Q5","intensity":4,"year":-7,"gap":2},{"line":"Q5","intensity":4,"year":-6,"gap":1},{"line":"Q5","intensity":4,"year":-5,"gap":0},{"line":"Q5","intensity":4,"year":-4,"gap":-1},{"line":"Q5","intensity":4,"year":-3,"gap":1},{"line":"Q5","intensity":4,"year":-2,"gap":0},{"line":"Q5","intensity":4,"year":-1,"gap":0},
{"line":"Q5","intensity":4,"year":0,"gap":-4},{"line":"Q5","intensity":4,"year":1,"gap":-12},{"line":"Q5","intensity":4,"year":2,"gap":-25},{"line":"Q5","intensity":4,"year":3,"gap":-38},{"line":"Q5","intensity":4,"year":4,"gap":-48},{"line":"Q5","intensity":4,"year":5,"gap":-44},{"line":"Q5","intensity":4,"year":6,"gap":-73},{"line":"Q5","intensity":4,"year":7,"gap":-53},{"line":"Q5","intensity":4,"year":8,"gap":-32},{"line":"Q5","intensity":4,"year":9,"gap":-30},
{"line":"Q6","intensity":4,"year":-10,"gap":0},{"line":"Q6","intensity":4,"year":-9,"gap":1},{"line":"Q6","intensity":4,"year":-8,"gap":-2},{"line":"Q6","intensity":4,"year":-7,"gap":0},{"line":"Q6","intensity":4,"year":-6,"gap":1},{"line":"Q6","intensity":4,"year":-5,"gap":-1},{"line":"Q6","intensity":4,"year":-4,"gap":2},{"line":"Q6","intensity":4,"year":-3,"gap":0},{"line":"Q6","intensity":4,"year":-2,"gap":-1},{"line":"Q6","intensity":4,"year":-1,"gap":0},
{"line":"Q6","intensity":4,"year":0,"gap":-6},{"line":"Q6","intensity":4,"year":1,"gap":-20},{"line":"Q6","intensity":4,"year":2,"gap":-40},{"line":"Q6","intensity":4,"year":3,"gap":-56},{"line":"Q6","intensity":4,"year":4,"gap":-52},{"line":"Q6","intensity":4,"year":5,"gap":-42},{"line":"Q6","intensity":4,"year":6,"gap":-30},{"line":"Q6","intensity":4,"year":7,"gap":-28},{"line":"Q6","intensity":4,"year":8,"gap":-30},{"line":"Q6","intensity":4,"year":9,"gap":-30},
{"line":"R1","intensity":5,"year":-10,"gap":3},{"line":"R1","intensity":5,"year":-9,"gap":6.8},{"line":"R1","intensity":5,"year":-8,"gap":4.5},{"line":"R1","intensity":5,"year":-7,"gap":0},{"line":"R1","intensity":5,"year":-6,"gap":1},{"line":"R1","intensity":5,"year":-5,"gap":-2},{"line":"R1","intensity":5,"year":-4,"gap":1},{"line":"R1","intensity":5,"year":-3,"gap":0},{"line":"R1","intensity":5,"year":-2,"gap":6.5},{"line":"R1","intensity":5,"year":-1,"gap":0},
{"line":"R1","intensity":5,"year":0,"gap":-7},{"line":"R1","intensity":5,"year":1,"gap":-7},{"line":"R1","intensity":5,"year":2,"gap":-7},
{"line":"R2","intensity":5,"year":-10,"gap":-1},{"line":"R2","intensity":5,"year":-9,"gap":0},{"line":"R2","intensity":5,"year":-8,"gap":-2},{"line":"R2","intensity":5,"year":-7,"gap":2},{"line":"R2","intensity":5,"year":-6,"gap":0},{"line":"R2","intensity":5,"year":-5,"gap":-3},{"line":"R2","intensity":5,"year":-4,"gap":0},{"line":"R2","intensity":5,"year":-3,"gap":1},{"line":"R2","intensity":5,"year":-2,"gap":0},{"line":"R2","intensity":5,"year":-1,"gap":0},
{"line":"R2","intensity":5,"year":0,"gap":-14},{"line":"R2","intensity":5,"year":1,"gap":-25},{"line":"R2","intensity":5,"year":2,"gap":-35},{"line":"R2","intensity":5,"year":3,"gap":-45},{"line":"R2","intensity":5,"year":4,"gap":-52},{"line":"R2","intensity":5,"year":5,"gap":-45},{"line":"R2","intensity":5,"year":6,"gap":-36},{"line":"R2","intensity":5,"year":7,"gap":-31.5},{"line":"R2","intensity":5,"year":8,"gap":-29},{"line":"R2","intensity":5,"year":9,"gap":-27.8},
{"line":"R3","intensity":5,"year":-10,"gap":0},{"line":"R3","intensity":5,"year":-9,"gap":1},{"line":"R3","intensity":5,"year":-8,"gap":0},{"line":"R3","intensity":5,"year":-7,"gap":-1},{"line":"R3","intensity":5,"year":-6,"gap":2},{"line":"R3","intensity":5,"year":-5,"gap":1},{"line":"R3","intensity":5,"year":-4,"gap":-2},{"line":"R3","intensity":5,"year":-3,"gap":0},{"line":"R3","intensity":5,"year":-2,"gap":1},{"line":"R3","intensity":5,"year":-1,"gap":0},
{"line":"R3","intensity":5,"year":0,"gap":-10},{"line":"R3","intensity":5,"year":1,"gap":-5},{"line":"R3","intensity":5,"year":2,"gap":-12},{"line":"R3","intensity":5,"year":3,"gap":-22},{"line":"R3","intensity":5,"year":4,"gap":-32},{"line":"R3","intensity":5,"year":5,"gap":-38},{"line":"R3","intensity":5,"year":6,"gap":-42},{"line":"R3","intensity":5,"year":7,"gap":-40},{"line":"R3","intensity":5,"year":8,"gap":-35},{"line":"R3","intensity":5,"year":9,"gap":-30},
{"line":"B","intensity":6,"year":-10,"gap":-4.5},{"line":"B","intensity":6,"year":-9,"gap":0},{"line":"B","intensity":6,"year":-8,"gap":0},{"line":"B","intensity":6,"year":-7,"gap":1},{"line":"B","intensity":6,"year":-6,"gap":0},{"line":"B","intensity":6,"year":-5,"gap":-1},{"line":"B","intensity":6,"year":-4,"gap":0.5},{"line":"B","intensity":6,"year":-3,"gap":-0.5},{"line":"B","intensity":6,"year":-2,"gap":1},{"line":"B","intensity":6,"year":-1,"gap":0},
{"line":"B","intensity":6,"year":0,"gap":-12},{"line":"B","intensity":6,"year":1,"gap":-20},{"line":"B","intensity":6,"year":2,"gap":-28},{"line":"B","intensity":6,"year":3,"gap":-49},{"line":"B","intensity":6,"year":4,"gap":-81},{"line":"B","intensity":6,"year":5,"gap":-114},{"line":"B","intensity":6,"year":6,"gap":-129},{"line":"B","intensity":6,"year":7,"gap":-84},{"line":"B","intensity":6,"year":8,"gap":-89},{"line":"B","intensity":6,"year":9,"gap":-85},
{"line":"C","intensity":6,"year":-10,"gap":1},{"line":"C","intensity":6,"year":-9,"gap":1},{"line":"C","intensity":6,"year":-8,"gap":0},{"line":"C","intensity":6,"year":-7,"gap":0},{"line":"C","intensity":6,"year":-6,"gap":-1},{"line":"C","intensity":6,"year":-5,"gap":-0.5},{"line":"C","intensity":6,"year":-4,"gap":0},{"line":"C","intensity":6,"year":-3,"gap":0.5},{"line":"C","intensity":6,"year":-2,"gap":0},{"line":"C","intensity":6,"year":-1,"gap":0},
{"line":"C","intensity":6,"year":0,"gap":-10},{"line":"C","intensity":6,"year":1,"gap":-28},{"line":"C","intensity":6,"year":2,"gap":-36.5},{"line":"C","intensity":6,"year":3,"gap":-41},{"line":"C","intensity":6,"year":4,"gap":-43},{"line":"C","intensity":6,"year":5,"gap":-44},{"line":"C","intensity":6,"year":6,"gap":-44},{"line":"C","intensity":6,"year":7,"gap":-49},{"line":"C","intensity":6,"year":8,"gap":-54.3},{"line":"C","intensity":6,"year":9,"gap":-55.8},
{"line":"D","intensity":6,"year":-10,"gap":2},{"line":"D","intensity":6,"year":-9,"gap":2},{"line":"D","intensity":6,"year":-8,"gap":1},{"line":"D","intensity":6,"year":-7,"gap":0},{"line":"D","intensity":6,"year":-6,"gap":2},{"line":"D","intensity":6,"year":-5,"gap":0},{"line":"D","intensity":6,"year":-4,"gap":-1},{"line":"D","intensity":6,"year":-3,"gap":1},{"line":"D","intensity":6,"year":-2,"gap":0},{"line":"D","intensity":6,"year":-1,"gap":0},
{"line":"D","intensity":6,"year":0,"gap":-15},{"line":"D","intensity":6,"year":1,"gap":-20},{"line":"D","intensity":6,"year":2,"gap":-28},{"line":"D","intensity":6,"year":3,"gap":-35},{"line":"D","intensity":6,"year":4,"gap":-40},{"line":"D","intensity":6,"year":5,"gap":-45.8},{"line":"D","intensity":6,"year":6,"gap":-56.4},{"line":"D","intensity":6,"year":7,"gap":-51},{"line":"D","intensity":6,"year":8,"gap":-46},{"line":"D","intensity":6,"year":9,"gap":-39.3},
{"line":"A","intensity":7,"year":-10,"gap":0.5},{"line":"A","intensity":7,"year":-9,"gap":0.5},{"line":"A","intensity":7,"year":-8,"gap":0.5},{"line":"A","intensity":7,"year":-7,"gap":2.5},{"line":"A","intensity":7,"year":-6,"gap":-3},{"line":"A","intensity":7,"year":-5,"gap":-0.5},{"line":"A","intensity":7,"year":-4,"gap":0},{"line":"A","intensity":7,"year":-3,"gap":-1},{"line":"A","intensity":7,"year":-2,"gap":2},{"line":"A","intensity":7,"year":-1,"gap":0},
{"line":"A","intensity":7,"year":0,"gap":-19},{"line":"A","intensity":7,"year":1,"gap":-18.3},{"line":"A","intensity":7,"year":2,"gap":-27.7},{"line":"A","intensity":7,"year":3,"gap":-15.6},{"line":"A","intensity":7,"year":4,"gap":-25.2},{"line":"A","intensity":7,"year":5,"gap":-73},{"line":"A","intensity":7,"year":6,"gap":-123.3},{"line":"A","intensity":7,"year":7,"gap":-118.8},{"line":"A","intensity":7,"year":8,"gap":-147},{"line":"A","intensity":7,"year":9,"gap":-133}
    ]},
    "mark": {"type": "line", "strokeJoin": "round", "strokeCap": "round"},
    "encoding": {
      "x": {"field": "year", "type": "quantitative", "scale": {"domain": [-10.757, 9.69], "nice": false, "zero": false}, "title": "Years relative to conflict onset", "axis": {"values": [-10, -5, 0, 5]}},
      "y": {"field": "gap", "type": "quantitative", "scale": {"domain": [-153.8, 19.5], "nice": false, "zero": false}, "title": "relative real GDP p.c. gap", "axis": {"values": [0, -50, -100, -150]}},
      "detail": {"field": "line", "type": "nominal"},
      "color": {"field": "intensity", "type": "ordinal", "scale": {"domain": [1, 2, 3, 4, 5, 6, 7], "range": ["#d6d6d6", "#b2b2b2", "#8e8e8e", "#6a6a6a", "#474747", "#232323", "#000000"]}, "legend": null},
      "strokeWidth": {"field": "intensity", "type": "quantitative", "scale": {"domain": [1, 7], "range": [1.1, 2.9]}, "legend": null}
    }
   }
  ]
 },
 {
  "layer": [
   {
    "data": {"values": [{"intensity": 1}, {"intensity": 2}, {"intensity": 3}, {"intensity": 4}, {"intensity": 5}, {"intensity": 6}, {"intensity": 7}]},
    "mark": {"type": "rect", "strokeWidth": 0.6},
    "encoding": {
      "x": {"field": "intensity", "type": "ordinal", "scale": {"range": [31.3, 438.7], "paddingInner": 0, "paddingOuter": 0}, "axis": null},
      "y": {"datum": -134.3, "type": "quantitative", "scale": {"domain": [-153.8, 19.5], "nice": false, "zero": false}, "title": "relative real GDP p.c. gap"},
      "y2": {"datum": -146.5},
      "color": {"field": "intensity", "type": "ordinal", "scale": {"domain": [1, 2, 3, 4, 5, 6, 7], "range": ["#d6d6d6", "#b2b2b2", "#8e8e8e", "#6a6a6a", "#474747", "#232323", "#000000"]}, "legend": null},
      "stroke": {"field": "intensity", "type": "ordinal", "scale": {"domain": [1, 2, 3, 4, 5, 6, 7], "range": ["#d6d6d6", "#b2b2b2", "#8e8e8e", "#6a6a6a", "#474747", "#232323", "#000000"]}, "legend": null}
    }
   },
   {
    "data": {"values": [{"intensity": 1}, {"intensity": 2}, {"intensity": 3}, {"intensity": 4}, {"intensity": 5}, {"intensity": 6}, {"intensity": 7}]},
    "mark": {"type": "text", "font": "Liberation Serif", "fontSize": 31, "baseline": "alphabetic", "align": "center", "color": "#000"},
    "encoding": {
      "x": {"field": "intensity", "type": "ordinal", "axis": null},
      "y": {"datum": -128.9, "type": "quantitative", "title": "relative real GDP p.c. gap"},
      "text": {"field": "intensity"}
    }
   },
   {
    "data": {"values": [{"label": "Intensity"}]},
    "mark": {"type": "text", "font": "Liberation Serif", "fontSize": 31, "baseline": "alphabetic", "align": "center", "color": "#000"},
    "encoding": {
      "x": {"datum": 4, "type": "ordinal", "axis": null},
      "y": {"datum": -117, "type": "quantitative", "title": "relative real GDP p.c. gap"},
      "text": {"field": "label"}
    }
   },
   {
    "data": {"values": [{}]},
    "mark": {"type": "rect", "fill": null, "stroke": "#000", "strokeWidth": 1, "xOffset": -29.1, "x2Offset": 29.1},
    "encoding": {
      "x": {"datum": 1, "type": "ordinal", "axis": null},
      "x2": {"datum": 7},
      "y": {"datum": -134.3, "type": "quantitative", "title": "relative real GDP p.c. gap"},
      "y2": {"datum": -146.5}
    }
   }
  ]
 }
],
"resolve": {"scale": {"x": "independent"}}
}
